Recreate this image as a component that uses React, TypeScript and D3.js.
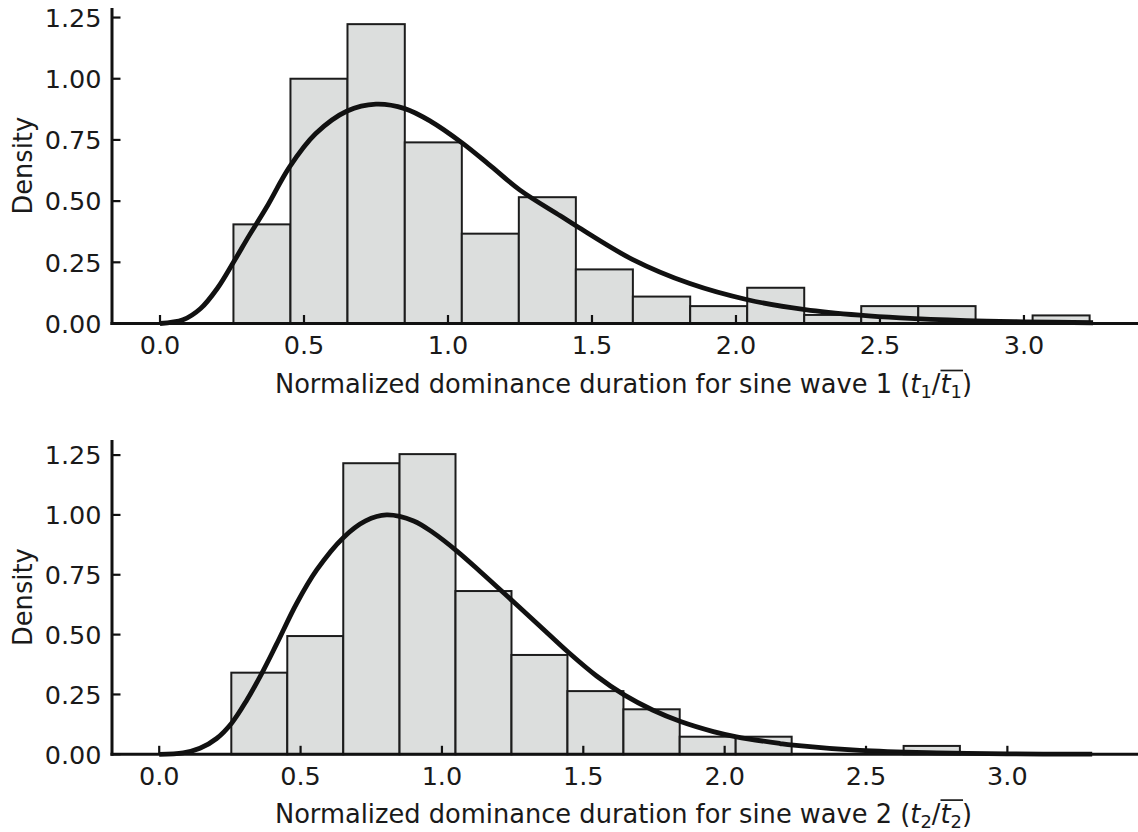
import React, { useEffect, useRef } from "react";
import * as d3 from "d3";

// Shared histogram bin edges (normalized duration)
const binEdges = [0.255, 0.453, 0.651, 0.85, 1.048, 1.246, 1.444, 1.642, 1.841, 2.039, 2.237, 2.435, 2.633, 2.832, 3.03, 3.228];

// Histogram densities, sine wave 1 (top) and sine wave 2 (bottom)
const densityWave1 = [0.405, 1.0, 1.223, 0.74, 0.367, 0.516, 0.221, 0.11, 0.071, 0.146, 0.035, 0.071, 0.071, 0, 0.033];
const densityWave2 = [0.341, 0.494, 1.216, 1.254, 0.682, 0.415, 0.264, 0.188, 0.0735, 0.0735, 0, 0, 0.035, 0, 0];

// Fitted density curves
const fitX1 = [0, 0.08, 0.14, 0.2, 0.255, 0.31, 0.37, 0.45, 0.54, 0.65, 0.75, 0.85, 0.94, 1.05, 1.15, 1.25, 1.39, 1.45, 1.64, 1.84, 2.04, 2.24, 2.43, 2.57, 2.8, 3.0, 3.24];
const fitY1 = [0, 0.015, 0.06, 0.145, 0.25, 0.36, 0.475, 0.64, 0.775, 0.868, 0.896, 0.878, 0.826, 0.737, 0.642, 0.545, 0.44, 0.395, 0.262, 0.163, 0.097, 0.057, 0.034, 0.023, 0.012, 0.007, 0.003];
const fitX2 = [0, 0.085, 0.144, 0.203, 0.256, 0.309, 0.368, 0.415, 0.486, 0.557, 0.651, 0.73, 0.804, 0.9, 0.97, 1.052, 1.134, 1.25, 1.347, 1.448, 1.547, 1.646, 1.745, 1.844, 1.96, 2.042, 2.196, 2.243, 2.478, 2.75, 3.0, 3.3];
const fitY2 = [0, 0.006, 0.025, 0.066, 0.13, 0.225, 0.35, 0.46, 0.63, 0.77, 0.905, 0.975, 1.0, 0.975, 0.925, 0.85, 0.765, 0.64, 0.535, 0.425, 0.327, 0.247, 0.185, 0.137, 0.095, 0.073, 0.045, 0.038, 0.016, 0.006, 0.002, 0.0005];

const xTicks = [0, 0.5, 1.0, 1.5, 2.0, 2.5, 3.0];
const yTicks = [0, 0.25, 0.5, 0.75, 1.0, 1.25];
const yLabel = "Density";
const xLabelPrefix = "Normalized dominance duration for sine wave ";
const waveIds = ["1", "2"];

const W = 1138;
const H = 832;
const FONT = "'DejaVu Sans', sans-serif";
const INK = "#1a1a1a";
const TICK_FS = 25.5;
const LABEL_FS = 25.7;

const panels = [
  { top: 8, bottom: 323.5, xDomain: [-0.1667, 3.396], yMax: 1.289, labelOffset: 69.8, dens: densityWave1, fx: fitX1, fy: fitY1, id: waveIds[0] },
  { top: 440, bottom: 754.3, xDomain: [-0.167, 3.462], yMax: 1.313, labelOffset: 68.6, dens: densityWave2, fx: fitX2, fy: fitY2, id: waveIds[1] },
];

export default function App() {
  const ref = useRef<SVGSVGElement | null>(null);

  useEffect(() => {
    const svg = d3.select(ref.current);
    svg.selectAll("*").remove();
    const left = 112;
    const right = W;

    panels.forEach((p) => {
      const g = svg.append("g");
      const xs = d3.scaleLinear().domain(p.xDomain).range([left, right]);
      const ys = d3.scaleLinear().domain([0, p.yMax]).range([p.bottom, p.top]);

      // bars
      const bins = p.dens.map((d, i) => ({ x0: binEdges[i], x1: binEdges[i + 1], d }));
      g.selectAll("rect.bar")
        .data(bins)
        .enter()
        .append("rect")
        .attr("x", (b) => xs(b.x0))
        .attr("width", (b) => xs(b.x1) - xs(b.x0))
        .attr("y", (b) => ys(b.d))
        .attr("height", (b) => ys(0) - ys(b.d))
        .attr("fill", "#dcdedd")
        .attr("stroke", "#1c1c1c")
        .attr("stroke-width", 2);

      // fitted curve
      const pts = p.fx.map((x, i) => [x, p.fy[i]] as [number, number]);
      const line = d3
        .line<[number, number]>()
        .x((d) => xs(d[0]))
        .y((d) => ys(d[1]))
        .curve(d3.curveCatmullRom.alpha(0.5));
      g.append("path")
        .attr("d", line(pts) as string)
        .attr("fill", "none")
        .attr("stroke", "#111")
        .attr("stroke-width", 4.8)
        .attr("stroke-linejoin", "round");

      // spines
      g.append("line")
        .attr("x1", left).attr("x2", left)
        .attr("y1", p.top).attr("y2", p.bottom + 1.5)
        .attr("stroke", "#111").attr("stroke-width", 3);
      g.append("line")
        .attr("x1", left - 1.5).attr("x2", right)
        .attr("y1", p.bottom).attr("y2", p.bottom)
        .attr("stroke", "#111").attr("stroke-width", 3);

      // x ticks (inward)
      xTicks.forEach((t) => {
        g.append("line")
          .attr("x1", xs(t)).attr("x2", xs(t))
          .attr("y1", p.bottom).attr("y2", p.bottom - 8.5)
          .attr("stroke", "#111").attr("stroke-width", 2.2);
        g.append("text")
          .attr("x", xs(t))
          .attr("y", p.bottom + 30.5)
          .attr("text-anchor", "middle")
          .attr("font-family", FONT)
          .attr("font-size", TICK_FS)
          .attr("fill", INK)
          .text(d3.format(".1f")(t));
      });

      // y ticks (inward)
      yTicks.forEach((t) => {
        g.append("line")
          .attr("x1", left).attr("x2", left + 8.5)
          .attr("y1", ys(t)).attr("y2", ys(t))
          .attr("stroke", "#111").attr("stroke-width", 2.2);
        g.append("text")
          .attr("x", 101.5)
          .attr("y", ys(t) + 9.2)
          .attr("text-anchor", "end")
          .attr("font-family", FONT)
          .attr("font-size", TICK_FS)
          .attr("fill", INK)
          .text(d3.format(".2f")(t));
      });

      // y label
      const cy = (p.top + p.bottom) / 2;
      g.append("text")
        .attr("transform", `translate(31.7,${cy}) rotate(-90)`)
        .attr("text-anchor", "middle")
        .attr("font-family", FONT)
        .attr("font-size", LABEL_FS)
        .attr("fill", INK)
        .text(yLabel);

      // x label with math part
      const baseline = p.bottom + p.labelOffset;
      const txt = g.append("text")
        .attr("x", 623.5)
        .attr("y", baseline)
        .attr("text-anchor", "middle")
        .attr("font-family", FONT)
        .attr("font-size", LABEL_FS)
        .attr("fill", INK);
      const prefix = xLabelPrefix + p.id + " (";
      txt.append("tspan").text(prefix);
      txt.append("tspan").attr("font-style", "italic").text("t");
      txt.append("tspan").attr("font-size", LABEL_FS * 0.7).attr("dy", 5).text(p.id);
      txt.append("tspan").attr("dy", -5).text("/");
      txt.append("tspan").attr("font-style", "italic").text("t");
      txt.append("tspan").attr("font-size", LABEL_FS * 0.7).attr("dy", 5).text(p.id);
      txt.append("tspan").attr("dy", -5).text(")");

      const node = txt.node() as SVGTextElement;
      const L = prefix.length;
      try {
        const x0 = node.getStartPositionOfChar(L + 3).x;
        const x1 = node.getEndPositionOfChar(L + 4).x;
        g.append("line")
          .attr("x1", x0).attr("x2", x1 + 1)
          .attr("y1", baseline - 22.8).attr("y2", baseline - 22.8)
          .attr("stroke", INK).attr("stroke-width", 1.7);
      } catch (e) {
        // ignore
      }
    });
  }, []);

  return (
    <svg
      ref={ref}
      width={W}
      height={H}
      viewBox={`0 0 ${W} ${H}`}
      style={{ position: "absolute", left: 0, top: 0, background: "#fff" }}
    />
  );
}
